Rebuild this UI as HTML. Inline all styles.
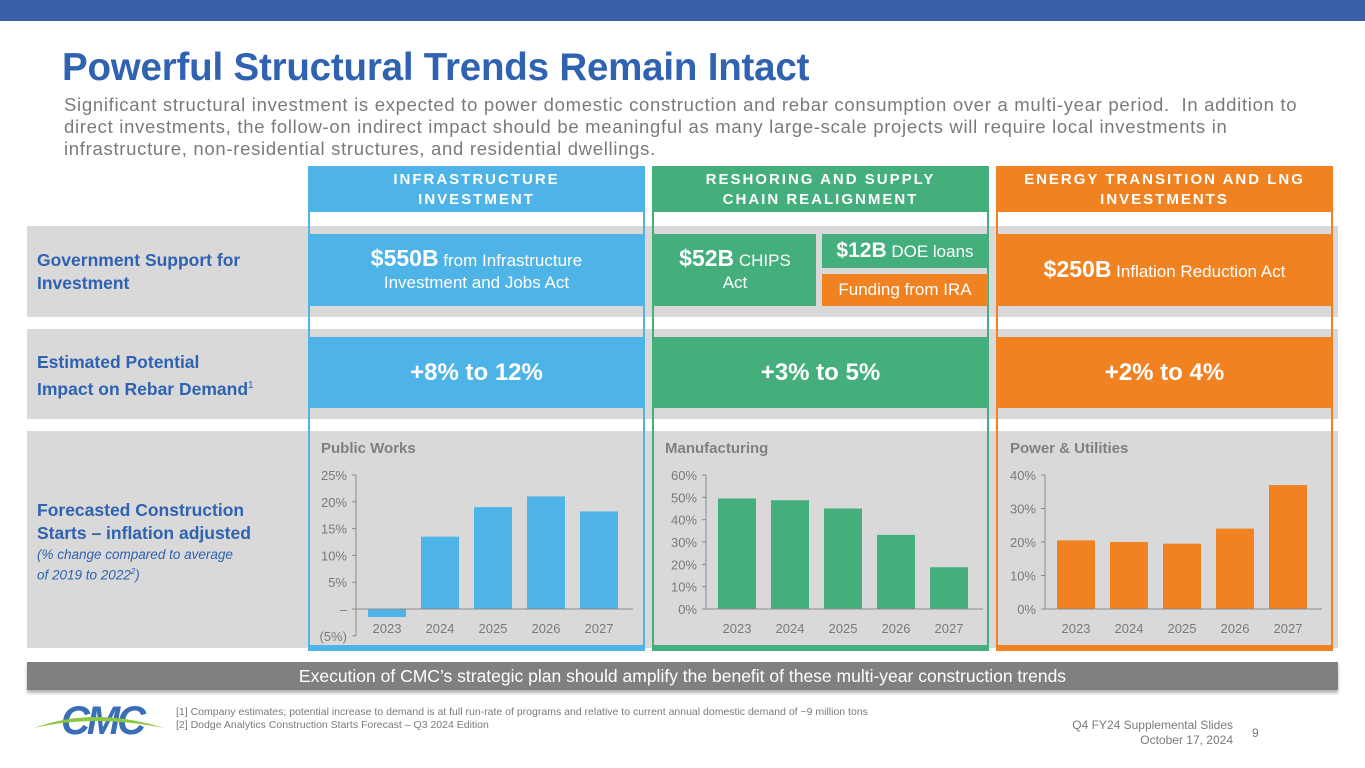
<!DOCTYPE html>
<html><head><meta charset="utf-8">
<style>
*{margin:0;padding:0;box-sizing:border-box}
body{width:1365px;height:768px;background:#fff;font-family:"Liberation Sans",sans-serif;position:relative;overflow:hidden}
.abs{position:absolute}
.topbar{left:0;top:0;width:1365px;height:21px;background:#3a5fa8}
.title{left:62px;top:46px;font-size:38.5px;font-weight:bold;color:#2f62b0;letter-spacing:-0.2px}
.sub{left:64px;top:94px;width:1290px;font-size:18.5px;line-height:22px;color:#7a7a7a;white-space:nowrap;letter-spacing:0.7px}
.row{left:27px;width:1311px;background:#d9d9d9}
.rlab{left:37px;font-size:17.5px;font-weight:bold;color:#2f62b0;line-height:23px}
.col{border:2px solid;top:166px;height:485px}
.hdr{top:166px;height:46px;color:#fff;font-weight:bold;font-size:15px;letter-spacing:2px;text-align:center;line-height:20px;padding-top:4px}
.box{color:#fff;display:flex;align-items:center;justify-content:center;text-align:center;font-size:17px;line-height:22px}
.big{font-size:23px;font-weight:bold}
.pct{font-size:24px;font-weight:bold}
</style></head><body>
<div class="abs topbar"></div>
<div class="abs title">Powerful Structural Trends Remain Intact</div>
<div class="abs sub">Significant structural investment is expected to power domestic construction and rebar consumption over a multi-year period.&nbsp; In addition to<br>direct investments, the follow-on indirect impact should be meaningful as many large-scale projects will require local investments in<br>infrastructure, non-residential structures, and residential dwellings.</div>

<div class="abs row" style="top:226px;height:91px"></div>
<div class="abs row" style="top:329px;height:90px"></div>
<div class="abs row" style="top:431px;height:217px"></div>

<div class="abs rlab" style="top:249px">Government Support for<br>Investment</div>
<div class="abs rlab" style="top:351px">Estimated Potential<br>Impact on Rebar Demand<sup style="font-size:10px;font-weight:normal">1</sup></div>
<div class="abs rlab" style="top:499px">Forecasted Construction<br>Starts – inflation adjusted</div>
<div class="abs" style="left:37px;top:546px;font-size:13.5px;font-style:italic;color:#2f62b0;line-height:17px">(% change compared to average<br>of 2019 to 2022<sup style="font-size:8px">2</sup>)</div>

<div class="abs col" style="left:308px;width:337px;border-color:#4eb3e6"></div>
<div class="abs col" style="left:652px;width:337px;border-color:#45ae7d"></div>
<div class="abs col" style="left:996px;width:337px;border-color:#f18221"></div>
<div class="abs" style="left:308px;top:645px;width:337px;height:6px;background:#4eb3e6"></div>
<div class="abs" style="left:652px;top:645px;width:337px;height:6px;background:#45ae7d"></div>
<div class="abs" style="left:996px;top:645px;width:337px;height:6px;background:#f18221"></div>

<div class="abs hdr" style="left:308px;width:337px;background:#4eb3e6">INFRASTRUCTURE<br>INVESTMENT</div>
<div class="abs hdr" style="left:652px;width:337px;background:#45ae7d">RESHORING AND SUPPLY<br>CHAIN REALIGNMENT</div>
<div class="abs hdr" style="left:996px;width:337px;background:#f18221">ENERGY TRANSITION AND LNG<br>INVESTMENTS</div>

<div class="abs box" style="left:310px;top:234px;width:333px;height:72px;background:#4eb3e6"><div><span class="big">$550B</span> from Infrastructure<br>Investment and Jobs Act</div></div>
<div class="abs box" style="left:654px;top:234px;width:162px;height:72px;background:#45ae7d"><div><span class="big">$52B</span> CHIPS<br>Act</div></div>
<div class="abs box" style="left:822px;top:234px;width:166px;height:34px;background:#45ae7d"><div><span class="big" style="font-size:21px">$12B</span> DOE loans</div></div>
<div class="abs box" style="left:822px;top:274px;width:166px;height:32px;background:#f18221">Funding from IRA</div>
<div class="abs box" style="left:998px;top:234px;width:333px;height:72px;background:#f18221"><div><span class="big">$250B</span> Inflation Reduction Act</div></div>

<div class="abs box pct" style="left:310px;top:337px;width:333px;height:71px;background:#4eb3e6">+8% to 12%</div>
<div class="abs box pct" style="left:654px;top:337px;width:333px;height:71px;background:#45ae7d">+3% to 5%</div>
<div class="abs box pct" style="left:998px;top:337px;width:333px;height:71px;background:#f18221">+2% to 4%</div>

<svg id="charts" class="abs" style="left:0;top:0" width="1365" height="768"></svg>

<div class="abs" style="left:27px;top:662px;width:1311px;height:28px;background:#808080;color:#fff;font-size:17.5px;text-align:center;line-height:28px;box-shadow:0 3px 3px rgba(0,0,0,0.3)">Execution of CMC’s strategic plan should amplify the benefit of these multi-year construction trends</div>

<svg class="abs" style="left:34px;top:698px" width="140" height="42">
<text x="68" y="36" text-anchor="middle" font-family="Liberation Sans" font-weight="bold" font-size="40" fill="#3a6fb8" font-style="italic" letter-spacing="-3">CMC</text>
<path d="M0,30 Q60,8 130,30 Q60,16 0,30Z" fill="#8dc63f"/>
</svg>
<div class="abs" style="left:176px;top:706px;font-size:10.5px;color:#7a7a7a;line-height:13px">[1] Company estimates; potential increase to demand is at full run-rate of programs and relative to current annual domestic demand of ~9 million tons<br>[2] Dodge Analytics Construction Starts Forecast – Q3 2024 Edition</div>
<div class="abs" style="left:1033px;top:718px;width:200px;text-align:right;font-size:12px;color:#7a7a7a;line-height:15px">Q4 FY24 Supplemental Slides<br>October 17, 2024</div>
<div class="abs" style="left:1252px;top:726px;font-size:12px;color:#7a7a7a">9</div>

<script>
const years = ["2023","2024","2025","2026","2027"];
const publicWorks = [-1.5, 13.5, 19, 21, 18.2];
const manufacturing = [49.5, 48.7, 45, 33.2, 18.7];
const powerUtilities = [20.5, 20, 19.5, 24, 37];
const publicTicks = [-5,0,5,10,15,20,25];
const publicTickLabels = ["(5%)","–","5%","10%","15%","20%","25%"];
const mfgTicks = [0,10,20,30,40,50,60];
const mfgTickLabels = ["0%","10%","20%","30%","40%","50%","60%"];
const powerTicks = [0,10,20,30,40];
const powerTickLabels = ["0%","10%","20%","30%","40%"];

const svg = document.getElementById('charts');
const NS = 'http://www.w3.org/2000/svg';
function mk(tag, attrs){const e=document.createElementNS(NS,tag);for(const k in attrs)e.setAttribute(k,attrs[k]);svg.appendChild(e);return e;}

function chart(cfg){
  const y0 = 609, yTop = 475;
  const ys = v => y0 - v * (y0 - yTop) / cfg.max;
  const t = mk('text',{x:cfg.tx,y:453,'font-size':15,'font-weight':'bold',fill:'#808080','font-family':'Liberation Sans'});
  t.textContent = cfg.title;
  
  
  const minY = ys(cfg.ticks[0]);
  const axis = mk('line',{x1:cfg.ax,x2:cfg.ax,y1:yTop,y2:minY,stroke:'#8a8a8a','stroke-width':1});
  
  
  cfg.ticks.forEach((v,i)=>{
    const y = ys(v);
    mk('line',{x1:cfg.ax-4,x2:cfg.ax,y1:y,y2:y,stroke:'#8a8a8a'});
    const l = mk('text',{x:cfg.ax-9,y:y+5,'text-anchor':'end','font-size':13,fill:'#7a7a7a','font-family':'Liberation Sans'});
    l.textContent = cfg.labels[i];
    
    
  });
  cfg.data.forEach((v,i)=>{
    const x = cfg.ax + 12 + i*53;
    const top = Math.min(ys(v), y0), h = Math.abs(ys(v)-y0);
    const b = mk('rect',{x:x,y:top,width:38,height:h,fill:cfg.color});
    
    
    const yl = mk('text',{x:x+19,y:633,'text-anchor':'middle','font-size':13,fill:'#7a7a7a','font-family':'Liberation Sans'});
    yl.textContent = years[i];
    
    
  });
  const base = mk('line',{x1:cfg.ax,x2:cfg.ax+277,y1:y0,y2:y0,stroke:'#8a8a8a'});
  
  
}
chart({key:'public-works',title:'Public Works',tx:321,ax:356,max:25,ticks:publicTicks,labels:publicTickLabels,data:publicWorks,color:'#4eb3e6'});
chart({key:'manufacturing',title:'Manufacturing',tx:665,ax:706,max:60,ticks:mfgTicks,labels:mfgTickLabels,data:manufacturing,color:'#45ae7d'});
chart({key:'power-utilities',title:'Power & Utilities',tx:1010,ax:1045,max:40,ticks:powerTicks,labels:powerTickLabels,data:powerUtilities,color:'#f18221'});
</script>
</body></html>
